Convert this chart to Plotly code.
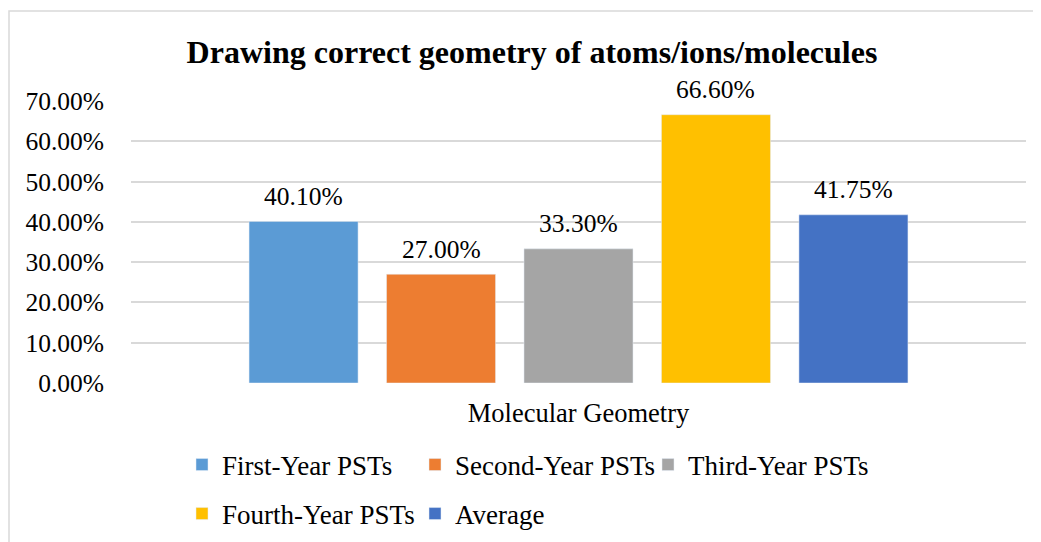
import plotly.graph_objects as go

categories = ["Molecular Geometry"]
series_names = ["First-Year PSTs", "Second-Year PSTs", "Third-Year PSTs", "Fourth-Year PSTs", "Average"]
series_values = [0.401, 0.270, 0.333, 0.666, 0.4175]
series_colors = ["#5B9BD5", "#ED7D31", "#A5A5A5", "#FFC000", "#4472C4"]
y_ticks = [0.0, 0.1, 0.2, 0.3, 0.4, 0.5, 0.6, 0.7]

FONT = "Liberation Serif"
OFF = 8                      # page body margin
W, H = 1041 - OFF, 542 - OFF
L, R, T, B = 123, 15, 93, 159
BARGAP = 0.232
BARGROUPGAP = 0.207

fig = go.Figure()
n = len(series_names)
for i, (name, val, col) in enumerate(zip(series_names, series_values, series_colors)):
    fig.add_trace(go.Bar(
        x=categories, y=[val], name=name, marker_color=col,
        legend="legend" if i < 3 else "legend2",
    ))
    group_w = 1 - BARGAP
    xc = -group_w / 2 + (i + 0.5) * group_w / n
    fig.add_annotation(
        x=xc, y=val, xref="x", yref="y", text=f"{val*100:.2f}%",
        showarrow=False, yanchor="bottom", yshift=8.5,
        font=dict(family=FONT, size=25.5, color="#000000"),
    )

pw = W - L - R
ph = H - T - B

def px_x(p):
    return (p - OFF - L) / pw

def px_y(p):
    return (H - B - (p - OFF)) / ph

fig.add_shape(type="rect", xref="paper", yref="paper",
              x0=px_x(9), y0=px_y(600), x1=px_x(1100), y1=px_y(11),
              line=dict(color="#D9D9D9", width=1.5), fillcolor="rgba(0,0,0,0)", layer="below")

leg_font = dict(family=FONT, size=27, color="#000000")
fig.update_layout(
    width=W, height=H,
    margin=dict(l=L, r=R, t=T, b=B, autoexpand=False),
    paper_bgcolor="white", plot_bgcolor="white",
    barmode="group", bargap=BARGAP, bargroupgap=BARGROUPGAP,
    title=dict(text="<b>Drawing correct geometry of atoms/ions/molecules</b>",
               x=(532 - OFF) / W, xref="container", xanchor="center",
               y=1 - (52 - OFF) / H, yref="container", yanchor="middle",
               font=dict(family=FONT, size=32, color="#000000")),
    font=dict(family=FONT, size=25, color="#000000"),
    showlegend=True,
    legend=dict(orientation="h", x=px_x(182), xanchor="left", y=px_y(465), yanchor="middle",
                font=leg_font, entrywidth=188,
                bgcolor="rgba(0,0,0,0)", traceorder="normal"),
    legend2=dict(orientation="h", x=px_x(182), xanchor="left", y=px_y(514), yanchor="middle",
                 font=leg_font, entrywidth=188,
                 bgcolor="rgba(0,0,0,0)", traceorder="normal"),
)
fig.update_yaxes(range=[0, 0.7], tickvals=y_ticks, tickformat=".2%",
                 showgrid=True, gridcolor="#D9D9D9", gridwidth=1.5,
                 zeroline=False, showline=False, ticks="", ticklabelstandoff=26,
                 tickfont=dict(family=FONT, size=25.5, color="#000000"))
fig.update_xaxes(type="category", showgrid=False, zeroline=False, showline=False,
                 ticks="", ticklabelstandoff=11,
                 tickfont=dict(family=FONT, size=26.5, color="#000000"))

fig.write_html("out.html")
